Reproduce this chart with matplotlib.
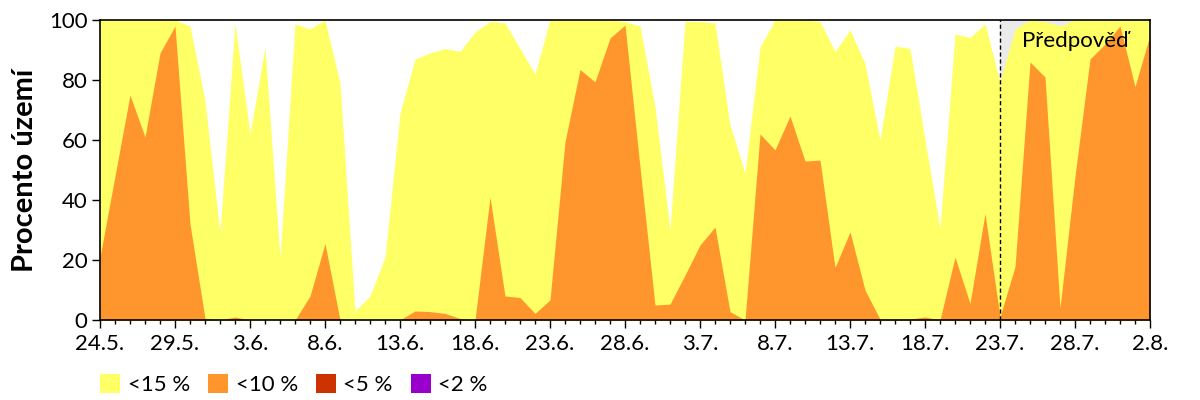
import numpy as np
import matplotlib
matplotlib.use("Agg")
import matplotlib.pyplot as plt
from matplotlib.patches import Patch
from matplotlib.ticker import MultipleLocator

plt.rcParams['font.family'] = ['Lato', 'DejaVu Sans']

# podil uzemi (%) den po dni od 24.5. do 2.8.
p15 = [100, 100, 100, 100, 100, 100, 98, 73, 29, 99,
       62, 91, 20.5, 98.7, 97, 100, 79, 3, 8, 21,
       69, 87, 89, 90.5, 89.5, 96, 99.5, 99, 90.5, 82,
       100, 100, 100, 100, 100, 99.5, 98, 71, 30, 99.5,
       99.5, 99, 65, 49, 91, 100, 100, 100, 99.5, 89.5,
       96.7, 85.5, 60, 91.3, 90.5, 60, 30.5, 95.3, 94.2, 98.7,
       79.4, 97, 100, 99.5, 98, 100, 100, 100, 100, 100,
       100]
p10 = [21, 48, 75, 61, 89, 98, 32, 0.5, 0, 1,
       0, 0, 0, 0, 8, 25.5, 0, 0, 0, 0,
       0, 3, 2.8, 2.2, 0.5, 0, 41, 8, 7.5, 2.2,
       6.7, 59.4, 83.5, 79.4, 94, 98.3, 51, 5, 5.3, 15,
       25, 31, 2.8, 0, 62, 56.7, 68, 53, 53.3, 17.5,
       29.4, 10, 0.3, 0.3, 0.3, 1, 0, 21, 5.5, 35.5,
       1, 17.8, 86, 81, 4, 48, 87, 92, 98, 77.8,
       95]
tick_labels = ["24.5.", "29.5.", "3.6.", "8.6.", "13.6.", "18.6.", "23.6.",
               "28.6.", "3.7.", "8.7.", "13.7.", "18.7.", "23.7.", "28.7.", "2.8."]
forecast_start = 60
legend_labels = ["<15 %", "<10 %", "<5 %", "<2 %"]
colors = ["#FFFF66", "#FF962D", "#CC3300", "#9900CC"]

days = np.arange(len(p15))

fig = plt.figure(figsize=(12, 4), dpi=100)
ax = fig.add_axes([100/1200, 80/400, 1050/1200, 300/400])

ax.axvspan(forecast_start, days[-1], color="#EBEBEB", lw=0, zorder=0)
ax.fill_between(days, 0, p15, color=colors[0], lw=0, zorder=1)
ax.fill_between(days, 0, p10, color=colors[1], lw=0, zorder=2)
ax.axvline(forecast_start, color="black", lw=1, ls=(0, (3, 2)), zorder=3)
ax.text(61.5, 93, "Předpověď", fontsize=16, va="center", ha="left", zorder=4)

ax.set_xlim(0, days[-1])
ax.set_ylim(0, 100)
ax.set_xticks(np.arange(0, len(p15), 5))
ax.set_xticklabels(tick_labels)
ax.xaxis.set_minor_locator(MultipleLocator(1))
ax.set_yticks(range(0, 101, 20))
ax.tick_params(axis="both", which="major", labelsize=16, length=6, width=1, direction="out")
ax.tick_params(axis="x", which="minor", length=3, width=1)
ax.tick_params(axis="x", pad=4)
ax.tick_params(axis="y", pad=3)
for s in ax.spines.values():
    s.set_linewidth(1.2)
ax.set_ylabel("Procento území", fontsize=21, fontweight="bold", labelpad=8)

handles = [Patch(facecolor=c, edgecolor="none") for c in colors]
fig.legend(handles, legend_labels, loc="lower left", bbox_to_anchor=(100/1200, 0.012),
           ncol=4, frameon=False, fontsize=16, handlelength=0.9, handleheight=0.9,
           columnspacing=0.8, handletextpad=0.35, borderpad=0, borderaxespad=0)

fig.savefig("out.png", dpi=100)
